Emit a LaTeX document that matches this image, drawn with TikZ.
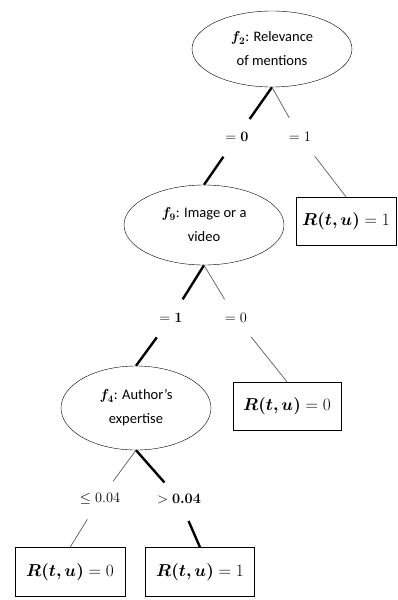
\documentclass[tikz,border=0pt]{standalone}
\usepackage{amsmath}
\usepackage{bm}
\usepackage{fontspec}
\setmainfont{Carlito}
\usetikzlibrary{shapes.geometric}

\tikzset{
  feature/.style={ellipse, draw, thin, inner sep=0pt, align=center, font=\fontsize{14.5}{24}\selectfont},
  leaf/.style={rectangle, draw, thin, inner sep=0pt, font=\fontsize{16}{18}\selectfont},
  cond/.style={inner sep=0pt, font=\fontsize{15}{18}\selectfont},
  yesbranch/.style={line width=2.4pt, black},
  nobranch/.style={line width=0.7pt, black!65},
  toval/.style={shorten >=22pt},
  fromval/.style={shorten <=24pt}
}

\begin{document}
\begin{tikzpicture}[x=1pt, y=-1pt]
\useasboundingbox (0,0) rectangle (398,600);
% features
\node[feature, minimum width=160pt, minimum height=76pt] (f2) at (272,49) {$\bm{f_2}$: Relevance\\of mentions};
\node[feature, minimum width=160pt, minimum height=80pt] (f9) at (204,225) {$\bm{f_9}$: Image or a\\video};
\node[feature, minimum width=150pt, minimum height=84pt] (f4) at (136,408) {$\bm{f_4}$: Author's\\expertise};
% outcomes
\node[leaf, minimum width=100pt, minimum height=48pt] (r1) at (346,221) {$\bm{R(t,u)} = 1$};
\node[leaf, minimum width=108pt, minimum height=48pt] (r2) at (287,406) {$\bm{R(t,u)} = 0$};
\node[leaf, minimum width=110pt, minimum height=49pt] (r3) at (70,572) {$\bm{R(t,u)} = 0$};
\node[leaf, minimum width=109pt, minimum height=49pt] (r4) at (200,572) {$\bm{R(t,u)} = 1$};
% values on the branches
\node[cond] (v20) at (237,137) {$= \bm{0}$};
\node[cond] (v21) at (300,137) {$= 1$};
\node[cond] (v91) at (171,318) {$= \bm{1}$};
\node[cond] (v90) at (236,318) {$= 0$};
\node[cond] (v4a) at (100,499) {$\le 0.04$};
\node[cond] (v4b) at (179,499) {$> \bm{0.04}$};
% branches
\draw[yesbranch, toval] (f2.south) -- (v20.center);
\draw[yesbranch, fromval] (v20.center) -- (f9.north);
\draw[nobranch, toval] (f2.south) -- (v21.center);
\draw[nobranch, fromval] (v21.center) -- (r1.north);
\draw[yesbranch, toval] (f9.south) -- (v91.center);
\draw[yesbranch, fromval] (v91.center) -- (f4.north);
\draw[nobranch, toval] (f9.south) -- (v90.center);
\draw[nobranch, fromval] (v90.center) -- (r2.north);
\draw[nobranch, toval] (f4.south) -- (v4a.center);
\draw[nobranch, fromval] (v4a.center) -- (r3.north);
\draw[yesbranch, toval] (f4.south) -- (v4b.center);
\draw[yesbranch, fromval] (v4b.center) -- (r4.north);
\end{tikzpicture}
\end{document}
